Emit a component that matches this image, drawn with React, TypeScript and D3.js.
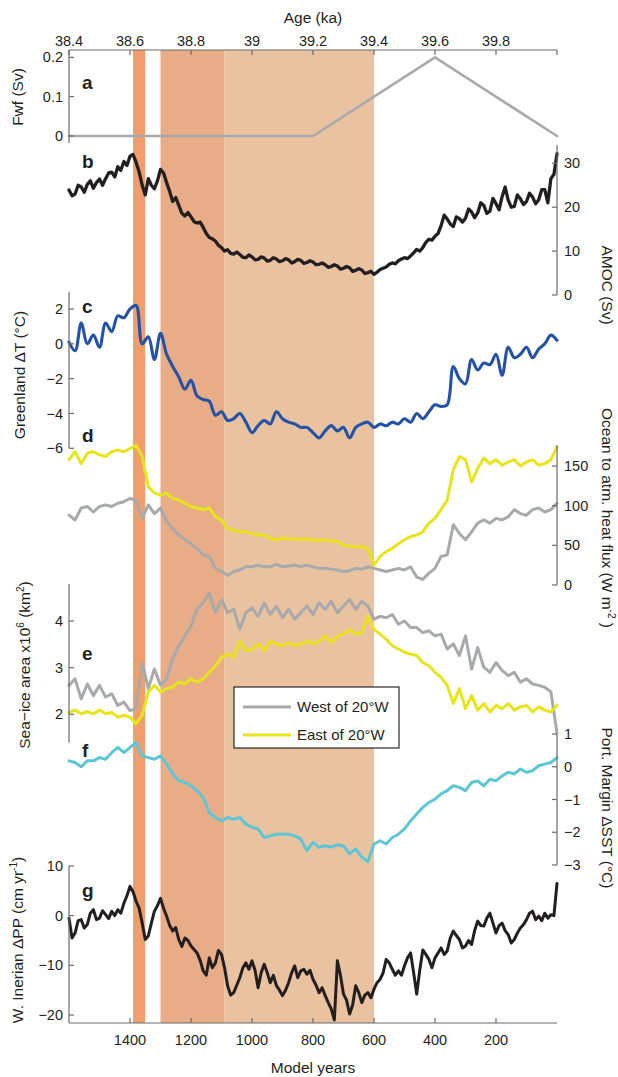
import React from 'react';
import * as d3 from 'd3';

// model years, 20-yr steps, left (1600) to right (0)
const years = [1600, 1580, 1560, 1540, 1520, 1500, 1480, 1460, 1440, 1420, 1400, 1380, 1360, 1340, 1320, 1300, 1280, 1260, 1240, 1220, 1200, 1180, 1160, 1140, 1120, 1100, 1080, 1060, 1040, 1020, 1000, 980, 960, 940, 920, 900, 880, 860, 840, 820, 800, 780, 760, 740, 720, 700, 680, 660, 640, 620, 600, 580, 560, 540, 520, 500, 480, 460, 440, 420, 400, 380, 360, 340, 320, 300, 280, 260, 240, 220, 200, 180, 160, 140, 120, 100, 80, 60, 40, 20, 0];

// 10-yr steps for the noisier series (b, g)
const yearsFine = [
  1600, 1590, 1580, 1570, 1560, 1550, 1540, 1530, 1520, 1510,
  1500, 1490, 1480, 1470, 1460, 1450, 1440, 1430, 1420, 1410,
  1400, 1390, 1380, 1370, 1360, 1350, 1340, 1330, 1320, 1310,
  1300, 1290, 1280, 1270, 1260, 1250, 1240, 1230, 1220, 1210,
  1200, 1190, 1180, 1170, 1160, 1150, 1140, 1130, 1120, 1110,
  1100, 1090, 1080, 1070, 1060, 1050, 1040, 1030, 1020, 1010,
  1000, 990, 980, 970, 960, 950, 940, 930, 920, 910,
  900, 890, 880, 870, 860, 850, 840, 830, 820, 810,
  800, 790, 780, 770, 760, 750, 740, 730, 720, 710,
  700, 690, 680, 670, 660, 650, 640, 630, 620, 610,
  600, 590, 580, 570, 560, 550, 540, 530, 520, 510,
  500, 490, 480, 470, 460, 450, 440, 430, 420, 410,
  400, 390, 380, 370, 360, 350, 340, 330, 320, 310,
  300, 290, 280, 270, 260, 250, 240, 230, 220, 210,
  200, 190, 180, 170, 160, 150, 140, 130, 120, 110,
  100, 90, 80, 70, 60, 50, 40, 30, 20, 10,
  0,
];

const ageTicks = [38.4, 38.6, 38.8, 39.0, 39.2, 39.4, 39.6, 39.8];
const yearTicks = [1400, 1200, 1000, 800, 600, 400, 200];

// shaded intervals (model years)
const shadeStart = [1390, 1300, 1090];
const shadeEnd = [1350, 1090, 600];

// a: freshwater forcing
const fwfYears = [1600, 800, 400, 0];
const fwf = [0, 0, 0.2, 0];

// b: AMOC (Sv), 10-yr steps
const amoc = [
  23.9, 22.6, 23.0, 25.0, 24.6, 23.4, 25.2, 26.0, 24.3, 25.6,
  26.4, 25.0, 26.5, 27.8, 28.0, 26.9, 29.2, 28.4, 30.4, 29.5,
  31.6, 32.0, 30.2, 28.0, 25.0, 22.8, 26.5, 25.0, 24.2, 26.0,
  28.6, 27.8, 25.6, 23.6, 21.3, 22.2, 20.4, 18.6, 18.0, 18.8,
  17.8, 16.7, 16.4, 16.6, 15.4, 14.0, 13.1, 12.8, 12.3, 11.3,
  10.8, 10.0, 10.3, 9.5, 9.3, 9.8, 9.2, 8.6, 8.5, 9.1,
  8.7, 8.0, 8.1, 8.7, 8.4, 7.7, 7.9, 8.5, 8.2, 7.6,
  7.8, 8.3, 8.0, 7.3, 7.6, 8.1, 7.9, 7.2, 7.4, 7.8,
  7.5, 6.9, 7.0, 7.3, 6.9, 6.3, 6.5, 6.9, 6.6, 5.9,
  6.1, 6.5, 6.2, 5.4, 5.6, 6.0, 5.7, 4.9, 5.1, 5.4,
  4.7, 5.2, 5.8, 6.1, 6.4, 7.0, 7.3, 7.1, 7.8, 8.2,
  8.5, 8.3, 8.9, 9.6, 10.4, 10.0, 10.8, 12.0, 12.7, 12.5,
  13.4, 14.0, 15.8, 18.2, 17.3, 16.2, 15.6, 17.8, 17.4, 16.6,
  17.5, 19.6, 18.9, 17.6, 18.7, 21.0, 20.4, 18.6, 19.1, 22.0,
  20.8, 19.4, 22.4, 24.6, 21.6, 20.0, 20.2, 22.8, 21.9, 20.6,
  21.3, 23.2, 22.3, 20.8, 21.7, 24.0, 24.0, 21.0, 26.5, 27.5,
  32.2,
];

// c: Greenland dT
const greenlandT = [0.1, -0.4, 1.2, 0.0, 0.5, -0.2, 1.2, 0.7, 1.6, 1.5, 2.0, 2.2, 0.0, 0.4, -0.9, 0.6, -0.6, -1.3, -1.9, -2.6, -2.1, -3.0, -3.2, -3.3, -4.1, -3.9, -4.4, -4.3, -4.0, -4.5, -5.1, -4.7, -4.4, -4.6, -3.9, -4.3, -4.5, -4.6, -4.8, -4.8, -5.1, -5.4, -5.0, -4.7, -5.0, -4.8, -5.4, -4.8, -4.6, -4.5, -4.8, -4.6, -4.7, -4.5, -4.6, -4.3, -4.5, -4.0, -4.3, -3.9, -3.5, -3.6, -3.5, -1.3, -2.0, -2.3, -0.9, -1.5, -1.1, -1.2, -0.6, -1.8, -0.2, -0.8, -0.6, -0.2, -0.8, -0.3, 0.0, 0.5, 0.2];

// d: ocean to atmosphere heat flux (W m-2)
const heatEast = [158, 168, 153, 166, 168, 164, 162, 168, 170, 168, 172, 176, 162, 124, 116, 113, 116, 109, 107, 103, 99, 97, 95, 97, 86, 82, 71, 69, 67, 67, 65, 63, 63, 59, 57, 59, 58, 58, 57, 58, 57, 56, 57, 55, 55, 50, 49, 48, 49, 45, 25, 36, 42, 46, 52, 57, 61, 63, 67, 78, 84, 95, 107, 145, 162, 158, 130, 147, 160, 153, 158, 151, 155, 158, 150, 155, 158, 151, 153, 158, 174];
const heatWest = [88, 82, 97, 99, 92, 99, 101, 99, 103, 105, 109, 107, 84, 101, 90, 97, 80, 71, 63, 57, 52, 46, 38, 36, 21, 17, 12, 17, 19, 23, 23, 25, 23, 23, 26, 23, 24, 25, 23, 25, 23, 21, 21, 20, 19, 17, 18, 21, 20, 23, 21, 19, 17, 19, 21, 19, 23, 10, 7, 15, 21, 36, 38, 76, 65, 57, 67, 78, 82, 78, 84, 82, 86, 95, 90, 88, 95, 97, 92, 95, 103];

// e: sea-ice area (x10^6 km2)
const iceWest = [2.62, 2.76, 2.33, 2.65, 2.40, 2.62, 2.37, 2.44, 2.19, 2.26, 2.08, 2.12, 3.11, 2.55, 2.97, 2.62, 2.76, 3.19, 3.47, 3.68, 3.89, 4.25, 4.39, 4.60, 4.18, 4.46, 4.18, 4.25, 3.82, 4.18, 4.28, 4.10, 4.39, 4.14, 4.32, 4.07, 4.25, 4.04, 4.18, 4.32, 4.14, 4.39, 4.25, 4.42, 4.18, 4.32, 4.46, 4.25, 4.42, 4.32, 4.04, 4.10, 4.07, 4.14, 3.93, 4.00, 3.86, 3.86, 3.75, 3.79, 3.68, 3.72, 3.40, 3.51, 3.26, 3.68, 2.97, 3.43, 3.01, 2.90, 3.11, 2.94, 2.83, 2.90, 2.69, 2.76, 2.65, 2.62, 2.58, 2.48, 1.60];
const iceEast = [2.04, 2.09, 2.01, 2.06, 2.01, 2.09, 2.01, 2.04, 1.94, 1.98, 1.94, 1.80, 1.98, 2.48, 2.62, 2.48, 2.55, 2.58, 2.69, 2.65, 2.76, 2.69, 2.76, 2.90, 3.04, 3.22, 3.29, 3.22, 3.57, 3.36, 3.40, 3.51, 3.36, 3.57, 3.51, 3.47, 3.54, 3.47, 3.51, 3.57, 3.51, 3.57, 3.68, 3.54, 3.68, 3.72, 3.82, 3.72, 3.75, 4.10, 3.82, 3.72, 3.61, 3.47, 3.40, 3.33, 3.29, 3.26, 3.11, 3.04, 2.90, 2.79, 2.62, 2.23, 2.55, 2.12, 2.40, 2.09, 2.23, 2.05, 2.19, 2.12, 2.23, 2.09, 2.16, 2.19, 2.05, 2.16, 2.09, 2.05, 2.19];

// f: Portuguese margin dSST
const portSST = [0.18, 0.13, 0.0, 0.18, 0.18, 0.28, 0.23, 0.43, 0.59, 0.43, 0.59, 0.74, 0.33, 0.28, 0.23, 0.33, 0.08, -0.22, -0.43, -0.48, -0.58, -0.73, -0.94, -1.39, -1.55, -1.65, -1.55, -1.6, -1.55, -1.75, -1.85, -1.9, -2.16, -2.11, -2.06, -2.06, -2.06, -2.11, -2.21, -2.56, -2.31, -2.46, -2.41, -2.45, -2.38, -2.42, -2.66, -2.51, -2.76, -2.9, -2.36, -2.26, -2.36, -2.16, -2.06, -1.9, -1.65, -1.44, -1.24, -1.09, -0.99, -0.83, -0.73, -0.58, -0.63, -0.73, -0.48, -0.43, -0.58, -0.38, -0.43, -0.28, -0.17, -0.22, -0.07, -0.17, -0.12, 0.03, 0.08, 0.13, 0.28];

// g: W. Inerian dPP (cm/yr), 10-yr steps
const inerianPP = [
  -0.5, -4.5, -3.5, -1.0, -0.8, -2.5, -1.8, 0.5, 1.2, -0.8,
  -0.5, 1.0, 0.2, -0.6, 0.9, 0.0, 1.2, 0.5, 2.5, 4.0,
  5.9, 4.8, 2.9, 1.5, -1.5, -4.8, -4.1, -1.5, 0.9, 2.0,
  3.5, 1.5, -0.1, -2.0, -3.1, -2.4, -4.8, -6.2, -4.5, -5.0,
  -6.1, -6.8, -7.5, -9.0, -11.1, -12.0, -8.5, -10.5, -9.5, -7.0,
  -7.8, -10.5, -14.1, -16.0, -15.5, -14.0, -12.5, -10.5, -9.5, -10.8,
  -9.1, -11.0, -14.5, -11.5, -9.8, -11.5, -13.5, -12.0, -14.1, -15.0,
  -16.1, -15.0, -13.5, -11.5, -10.1, -12.5, -11.1, -10.8, -11.8, -11.0,
  -12.8, -14.0, -15.5, -14.5, -16.1, -17.5, -18.8, -21.0, -9.1, -12.0,
  -15.8, -17.0, -19.8, -18.0, -14.1, -15.5, -17.5, -16.0, -15.5, -16.5,
  -14.8, -13.5, -12.8, -11.5, -8.8, -9.5, -10.8, -12.0, -11.1, -12.0,
  -10.1, -8.5, -7.5, -11.5, -15.8, -11.0, -6.9, -7.8, -8.8, -10.5,
  -8.5, -7.5, -6.5, -7.8, -7.1, -4.5, -3.1, -4.0, -4.8, -6.5,
  -6.1, -5.0, -5.8, -3.0, -1.1, -2.0, -2.1, -0.5, 0.5, -1.5,
  -3.5, -2.0, -1.5, -3.0, -3.8, -5.5, -4.8, -3.5, -2.5, -1.8,
  -0.8, 0.5, 0.9, -0.8, -0.1, -1.0, 0.5, -0.5, 0.2, 0.0,
  6.5,
];

const fwfTicks = [0, 0.1, 0.2];
const amocTicks = [0, 10, 20, 30];
const tempTicks = [-6, -4, -2, 0, 2];
const heatTicks = [0, 50, 100, 150];
const iceTicks = [2, 3, 4];
const sstTicks = [-3, -2, -1, 0, 1];
const ppTicks = [-20, -10, 0, 10];

const legendLabels = ['West of 20°W', 'East of 20°W'];

const FONT = '"Liberation Sans", Arial, Helvetica, sans-serif';
const AXIS = '#6a6a6a';
const TXT = '#231f20';
const GRAY = '#a7a9ac';
const YELLOW = '#e8e41c';
const BLUE = '#2352a6';
const CYAN = '#5cc6d6';
const BLACK = '#231f20';
const SHADES = ['#f09e6c', '#e8ad86', '#e9c2a0'];
const TITLE = 15.5;

const X0 = 69;
const X1 = 557;
const x = d3.scaleLinear().domain([1600, 0]).range([X0, X1]);
const xAge = d3.scaleLinear().domain([38.4, 40.0]).range([X0, X1]);
const fmt = d3.format('~g');

const yA = d3.scaleLinear().domain([0, 0.2]).range([136, 57.3]);
const yB = d3.scaleLinear().domain([0, 30]).range([295, 163.3]);
const yC = d3.scaleLinear().domain([-6, 2]).range([448.3, 309]);
const yD = d3.scaleLinear().domain([0, 150]).range([585, 466]);
const yE = d3.scaleLinear().domain([2, 4]).range([714.3, 621]);
const yF = d3.scaleLinear().domain([-3, 1]).range([865, 734]);
const yG = d3.scaleLinear().domain([-20, 10]).range([1015, 866]);

const TOP = 50;
const BOTTOM = 1023;

type Scale = d3.ScaleLinear<number, number>;

function seriesPath(xs: number[], vals: number[], y: Scale, smooth = false) {
  const line = d3.line<number>()
    .x((_, i) => x(xs[i]))
    .y((v) => y(v))
    .curve(smooth ? d3.curveCatmullRom.alpha(0.5) : d3.curveLinear);
  return line(vals) || '';
}

function YAxis({ y, side, ticks, extent }: { y: Scale; side: 'left' | 'right'; ticks: number[]; extent: [number, number] }) {
  const xa = side === 'left' ? X0 : X1;
  const dir = side === 'left' ? 1 : -1;
  return (
    <g>
      <line x1={xa} x2={xa} y1={extent[0]} y2={extent[1]} stroke={AXIS} strokeWidth={1.2} />
      {ticks.map((t) => (
        <g key={t}>
          <line x1={xa} x2={xa + dir * 5} y1={y(t)} y2={y(t)} stroke={AXIS} strokeWidth={1.2} />
          <text
            x={side === 'left' ? xa - 6 : xa + 7}
            y={y(t)}
            dy="0.35em"
            textAnchor={side === 'left' ? 'end' : 'start'}
            fill={TXT}
          >
            {fmt(t)}
          </text>
        </g>
      ))}
    </g>
  );
}

const sup = (s: string) => (
  <tspan dy={-6} fontSize={10}>{s}</tspan>
);

export default function App() {
  const lines = [
    { d: seriesPath(fwfYears, fwf, yA), c: GRAY, w: 2.6 },
    { d: seriesPath(yearsFine, amoc, yB), c: BLACK, w: 3.3 },
    { d: seriesPath(years, greenlandT, yC, true), c: BLUE, w: 3.1 },
    { d: seriesPath(years, heatWest, yD), c: GRAY, w: 3 },
    { d: seriesPath(years, heatEast, yD), c: YELLOW, w: 3 },
    { d: seriesPath(years, iceWest, yE), c: GRAY, w: 3 },
    { d: seriesPath(years, iceEast, yE), c: YELLOW, w: 3 },
    { d: seriesPath(years, portSST, yF), c: CYAN, w: 3 },
    { d: seriesPath(yearsFine, inerianPP, yG), c: BLACK, w: 3 },
  ];

  const letters: [string, number][] = [['a', 82], ['b', 161], ['c', 306], ['d', 435], ['e', 653], ['f', 750], ['g', 890]];

  return (
    <svg width={618} height={1077} style={{ position: 'absolute', left: 0, top: 0, background: '#fff' }} fontFamily={FONT} fontSize={14.5}>
      {/* shaded intervals */}
      {shadeStart.map((s, i) => (
        <rect key={i} x={x(s)} y={TOP} width={x(shadeEnd[i]) - x(s)} height={BOTTOM - TOP} fill={SHADES[i]} />
      ))}

      {/* series */}
      {lines.map((l, i) => (
        <path key={i} d={l.d} fill="none" stroke={l.c} strokeWidth={l.w} strokeLinejoin="round" strokeLinecap="round" />
      ))}

      {/* top axis (age) */}
      <line x1={X0} x2={X1} y1={TOP} y2={TOP} stroke={AXIS} strokeWidth={1.2} />
      {ageTicks.map((t) => (
        <g key={t}>
          <line x1={xAge(t)} x2={xAge(t)} y1={TOP} y2={TOP + 5} stroke={AXIS} strokeWidth={1.2} />
          <text x={xAge(t)} y={46} textAnchor="middle" fill={TXT}>{fmt(t)}</text>
        </g>
      ))}
      <line x1={X1} x2={X1} y1={TOP} y2={TOP + 5} stroke={AXIS} strokeWidth={1.2} />
      <text x={(X0 + X1) / 2} y={23} textAnchor="middle" fill={TXT} fontSize={TITLE}>Age (ka)</text>

      {/* y axes */}
      <YAxis y={yA} side="left" ticks={fwfTicks} extent={[TOP, 143]} />
      <YAxis y={yB} side="right" ticks={amocTicks} extent={[145, 295]} />
      <YAxis y={yC} side="left" ticks={tempTicks} extent={[291.7, 448.3]} />
      <YAxis y={yD} side="right" ticks={heatTicks} extent={[445, 585]} />
      <YAxis y={yE} side="left" ticks={iceTicks} extent={[584, 742.7]} />
      <YAxis y={yF} side="right" ticks={sstTicks} extent={[734, 865]} />
      <YAxis y={yG} side="left" ticks={ppTicks} extent={[866, BOTTOM]} />

      {/* bottom axis (model years) */}
      <line x1={X0} x2={X1} y1={BOTTOM} y2={BOTTOM} stroke={AXIS} strokeWidth={1.2} />
      {yearTicks.map((t) => (
        <g key={t}>
          <line x1={x(t)} x2={x(t)} y1={BOTTOM} y2={BOTTOM - 5} stroke={AXIS} strokeWidth={1.2} />
          <text x={x(t)} y={1045} textAnchor="middle" fill={TXT}>{t}</text>
        </g>
      ))}
      <text x={(X0 + X1) / 2} y={1073} textAnchor="middle" fill={TXT} fontSize={TITLE}>Model years</text>

      {/* panel letters */}
      {letters.map(([l, yy]) => (
        <text key={l} x={82} y={yy} dy="0.35em" fontWeight="bold" fontSize={19} fill={TXT}>{l}</text>
      ))}

      {/* left axis titles */}
      <g fontSize={TITLE} fill={TXT}>
        <text transform="translate(23,97) rotate(-90)" textAnchor="middle">Fwf (Sv)</text>
        <text transform="translate(25,375) rotate(-90)" textAnchor="middle">Greenland ΔT  (°C)</text>
        <text transform="translate(30,665) rotate(-90)" textAnchor="middle">
          Sea−ice area x10{sup('6')}<tspan dy={6}> (km</tspan>{sup('2')}<tspan dy={6}>)</tspan>
        </text>
        <text transform="translate(23,940) rotate(-90)" textAnchor="middle">
          W. Inerian ΔPP (cm yr{sup('-1')}<tspan dy={6}>)</tspan>
        </text>

        {/* right axis titles */}
        <text transform="translate(602,285) rotate(90)" textAnchor="middle">AMOC (Sv)</text>
        <text transform="translate(602,518) rotate(90)" textAnchor="middle">
          Ocean to atm. heat flux (W m{sup('-2')}<tspan dy={6}> )</tspan>
        </text>
        <text transform="translate(602,808) rotate(90)" textAnchor="middle">Port. Margin ΔSST (°C)</text>
      </g>

      {/* legend */}
      <rect x={234} y={687} width={165} height={61} fill="#fff" stroke="#000" strokeWidth={1} />
      {legendLabels.map((lab, i) => (
        <g key={lab}>
          <line x1={243} x2={291} y1={707 + i * 28} y2={707 + i * 28} stroke={i === 0 ? GRAY : YELLOW} strokeWidth={2.8} />
          <text x={297} y={707 + i * 28} dy="0.35em" fill={TXT} fontSize={15}>{lab}</text>
        </g>
      ))}
    </svg>
  );
}
